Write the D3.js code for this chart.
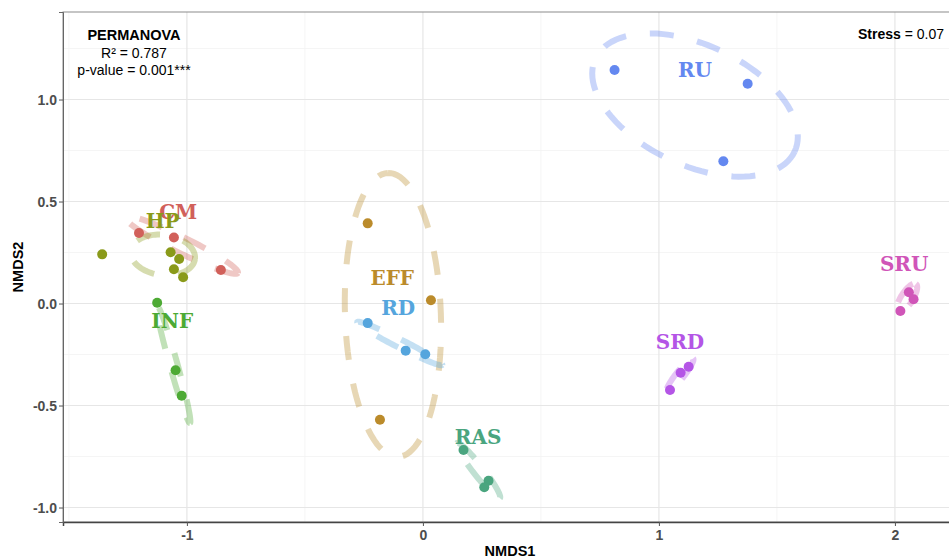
<!DOCTYPE html>
<html>
<head>
<meta charset="utf-8">
<script src="https://cdn.jsdelivr.net/npm/d3@7"></script>
<style>
  body { margin: 0; background: #fff; }
  svg { display: block; }
</style>
</head>
<body>
<script>
const WIDTH = 949;
const HEIGHT = 558;
const margin = { top: 12, right: -8, bottom: 36, left: 63 };

// groups, their colours and label positions (NMDS1, NMDS2)
const groups = ["CM", "EFF", "HP", "INF", "RAS", "RD", "RU", "SRD", "SRU"];
const colors = ["#D1605A", "#BB8B2B", "#8A9A1A", "#4DAA34", "#4AA57F", "#55A5DD", "#6488F0", "#B455E6", "#D055B8"];
const labelX = [-1.037, -0.130, -1.103, -1.062, 0.234, -0.105, 1.153, 1.089, 2.039];
const labelY = [0.450, 0.124, 0.406, -0.084, -0.653, -0.020, 1.148, -0.187, 0.197];

// sample scores
const sampleGroup = [
  "CM", "CM", "CM",
  "HP", "HP", "HP", "HP", "HP",
  "INF", "INF", "INF",
  "EFF", "EFF", "EFF",
  "RD", "RD", "RD",
  "RAS", "RAS", "RAS",
  "RU", "RU", "RU",
  "SRD", "SRD", "SRD",
  "SRU", "SRU", "SRU",
];
const nmds1 = [
  -1.203, -1.055, -0.856,
  -1.359, -1.069, -1.033, -1.055, -1.016,
  -1.126, -1.048, -1.022,
  -0.234, 0.034, -0.182,
  -0.234, -0.073, 0.010,
  0.172, 0.278, 0.260,
  0.812, 1.376, 1.273,
  1.047, 1.092, 1.126,
  2.023, 2.059, 2.079,
];
const nmds2 = [
  0.346, 0.324, 0.164,
  0.241, 0.251, 0.218, 0.168, 0.129,
  0.004, -0.327, -0.452,
  0.393, 0.016, -0.570,
  -0.096, -0.231, -0.249,
  -0.718, -0.869, -0.901,
  1.145, 1.077, 0.697,
  -0.424, -0.339, -0.310,
  -0.037, 0.055, 0.021,
];

// confidence ellipses: centre and two conjugate semi-axis vectors, in NMDS units
const ellGroup = ["CM", "EFF", "HP", "INF", "RAS", "RD", "RU", "SRD", "SRU"];
const ellCx = [-1.023, -0.127, -1.102, -1.057, 0.235, -0.098, 1.153, 1.089, 2.051];
const ellCy = [0.287, -0.056, 0.238, -0.297, -0.819, -0.196, 0.973, -0.351, 0.027];
const ellAx = [0.239, -0.021, 0.136, 0.070, 0.091, 0.180, 0.422, 0.056, 0.038];
const ellAy = [-0.137, 0.696, -0.020, -0.289, -0.135, -0.105, -0.228, 0.082, 0.069];
const ellBx = [-0.015, 0.203, -0.011, 0.016, 0.017, -0.008, -0.108, 0.013, 0.021];
const ellBy = [-0.035, 0.008, -0.098, 0.005, 0.015, -0.018, -0.267, -0.012, -0.016];

const xTicks = [-1, 0, 1, 2];
const xMinor = [-1.5, -0.5, 0.5, 1.5];
const yTicks = [1.0, 0.5, 0.0, -0.5, -1.0];
const yMinor = [1.25, 0.75, 0.25, -0.25, -0.75];

const color = d3.scaleOrdinal().domain(groups).range(colors);

const x = d3
  .scaleLinear()
  .domain([-1.525, 2.263])
  .range([margin.left, WIDTH - margin.right]);
const y = d3
  .scaleLinear()
  .domain([-1.071, 1.429])
  .range([HEIGHT - margin.bottom, margin.top]);

const svg = d3
  .select("body")
  .append("svg")
  .attr("width", WIDTH)
  .attr("height", HEIGHT)
  .attr("font-family", "Liberation Sans, Arial, sans-serif");

// grid
const grid = svg.append("g");
grid
  .selectAll("line.xminor")
  .data(xMinor)
  .join("line")
  .attr("x1", (d) => x(d))
  .attr("x2", (d) => x(d))
  .attr("y1", y.range()[0])
  .attr("y2", y.range()[1])
  .attr("stroke", "#f2f2f2")
  .attr("stroke-width", 0.8);
grid
  .selectAll("line.yminor")
  .data(yMinor)
  .join("line")
  .attr("x1", x.range()[0])
  .attr("x2", x.range()[1])
  .attr("y1", (d) => y(d))
  .attr("y2", (d) => y(d))
  .attr("stroke", "#f2f2f2")
  .attr("stroke-width", 0.8);
grid
  .selectAll("line.xmajor")
  .data(xTicks)
  .join("line")
  .attr("x1", (d) => x(d))
  .attr("x2", (d) => x(d))
  .attr("y1", y.range()[0])
  .attr("y2", y.range()[1])
  .attr("stroke", "#e6e6e6")
  .attr("stroke-width", 1.2);
grid
  .selectAll("line.ymajor")
  .data(yTicks)
  .join("line")
  .attr("x1", x.range()[0])
  .attr("x2", x.range()[1])
  .attr("y1", (d) => y(d))
  .attr("y2", (d) => y(d))
  .attr("stroke", "#e6e6e6")
  .attr("stroke-width", 1.2);

// panel border
svg
  .append("rect")
  .attr("x", x.range()[0])
  .attr("y", y.range()[1])
  .attr("width", x.range()[1] - x.range()[0])
  .attr("height", y.range()[0] - y.range()[1])
  .attr("fill", "none")
  .attr("stroke", "#8c8c8c")
  .attr("stroke-width", 1);

// ellipses
const steps = d3.range(0, 101).map((i) => (i / 100) * 2 * Math.PI);
const ellLine = d3
  .line()
  .x((d) => x(d[0]))
  .y((d) => y(d[1]));

ellGroup.forEach((g, i) => {
  const pts = steps.map((t) => [
    ellCx[i] + ellAx[i] * Math.cos(t) + ellBx[i] * Math.sin(t),
    ellCy[i] + ellAy[i] * Math.cos(t) + ellBy[i] * Math.sin(t),
  ]);
  svg
    .append("path")
    .attr("d", ellLine(pts))
    .attr("fill", "none")
    .attr("stroke", color(g))
    .attr("stroke-opacity", 0.35)
    .attr("stroke-width", 6)
    .attr("stroke-dasharray", "24,24");
});

// points
svg
  .append("g")
  .selectAll("circle")
  .data(d3.range(nmds1.length))
  .join("circle")
  .attr("cx", (i) => x(nmds1[i]))
  .attr("cy", (i) => y(nmds2[i]))
  .attr("r", 5)
  .attr("fill", (i) => color(sampleGroup[i]));

// group labels (slab serif, like the original)
svg
  .append("g")
  .selectAll("text")
  .data(groups)
  .join("text")
  .attr("x", (d, i) => x(labelX[i]))
  .attr("y", (d, i) => y(labelY[i]))
  .attr("dy", "0.36em")
  .attr("text-anchor", "middle")
  .attr("font-family", "DejaVu Serif, serif")
  .attr("font-weight", "bold")
  .attr("font-size", 20)
  .attr("fill", (d) => color(d))
  .text((d) => d);

// axes
const xAxis = svg
  .append("g")
  .attr("transform", `translate(0,${y.range()[0]})`)
  .call(d3.axisBottom(x).tickValues(xTicks).tickSize(4).tickPadding(4));
xAxis.select(".domain").attr("stroke", "#444").attr("stroke-width", 1.5);
xAxis.selectAll(".tick line").attr("stroke", "#555");
xAxis
  .selectAll(".tick text")
  .attr("font-size", 14)
  .attr("font-weight", "bold")
  .attr("font-family", "Liberation Sans, Arial, sans-serif")
  .attr("fill", "#4d4d4d")
  .text((d) => String(d));

const yAxis = svg
  .append("g")
  .attr("transform", `translate(${x.range()[0]},0)`)
  .call(d3.axisLeft(y).tickValues(yTicks).tickSize(4).tickPadding(2));
yAxis.select(".domain").attr("stroke", "#666").attr("stroke-width", 1);
yAxis.selectAll(".tick line").attr("stroke", "#555");
yAxis
  .selectAll(".tick text")
  .attr("font-size", 14)
  .attr("font-weight", "bold")
  .attr("font-family", "Liberation Sans, Arial, sans-serif")
  .attr("fill", "#4d4d4d")
  .text((d) => d.toFixed(1));

// axis titles
svg
  .append("text")
  .attr("x", (margin.left + WIDTH - margin.right) / 2)
  .attr("y", 556)
  .attr("text-anchor", "middle")
  .attr("font-size", 14.5)
  .attr("font-weight", "bold")
  .text("NMDS1");
svg
  .append("text")
  .attr("transform", `translate(23,${(y.range()[0] + y.range()[1]) / 2}) rotate(-90)`)
  .attr("text-anchor", "middle")
  .attr("font-size", 14.5)
  .attr("font-weight", "bold")
  .text("NMDS2");

// annotations
const perm = svg.append("g").attr("text-anchor", "middle").attr("fill", "#000");
perm.append("text").attr("x", 134).attr("y", 40).attr("font-size", 14.5).attr("font-weight", "bold").text("PERMANOVA");
perm.append("text").attr("x", 134).attr("y", 58).attr("font-size", 14).text("R² = 0.787");
perm.append("text").attr("x", 134).attr("y", 75).attr("font-size", 14).text("p-value = 0.001***");

const stress = svg.append("text").attr("x", 858).attr("y", 39).attr("font-size", 14);
stress.append("tspan").attr("font-weight", "bold").text("Stress");
stress.append("tspan").text(" = 0.07");
</script>
</body>
</html>
